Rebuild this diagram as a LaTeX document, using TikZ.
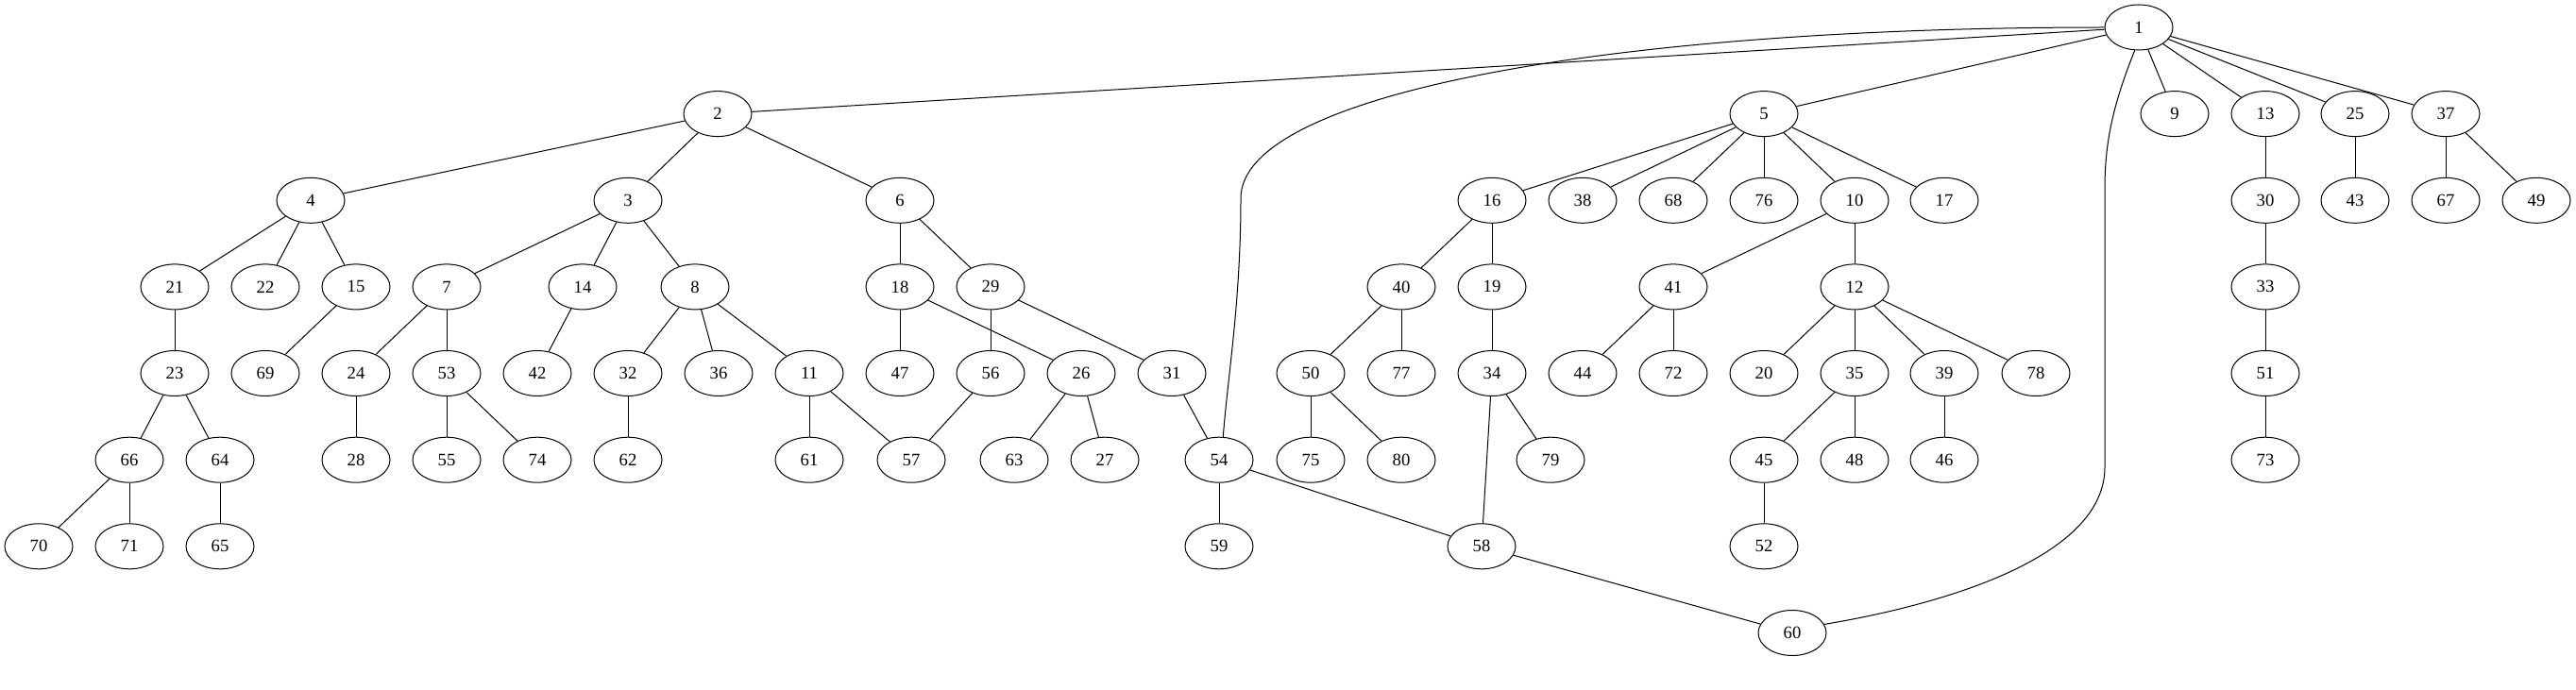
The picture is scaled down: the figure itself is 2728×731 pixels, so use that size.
\documentclass[tikz,border=0pt]{standalone}
\usepackage{fontspec}
\setmainfont{Liberation Serif}
\usetikzlibrary{shapes.geometric}

\tikzset{every picture/.style={line width=0.75pt}}
\tikzset{vtx/.style={draw, ellipse, minimum width=54pt, minimum height=36pt, inner sep=0pt, font=\fontsize{14}{16}\selectfont}}

\begin{document}
\begin{tikzpicture}[x=0.75pt,y=0.75pt,yscale=-1,xscale=1]
%set diagram left start at 0, and has height of 731
\useasboundingbox (0,0) rectangle (2728,731);

% Nodes, rank 0
\node[vtx] (n1) at (2265,29) {1};
% Nodes, rank 1
\node[vtx] (n2) at (760,120.6) {2};
\node[vtx] (n5) at (1868,120.6) {5};
\node[vtx] (n9) at (2303,120.6) {9};
\node[vtx] (n13) at (2399,120.6) {13};
\node[vtx] (n25) at (2494,120.6) {25};
\node[vtx] (n37) at (2590,120.6) {37};
% Nodes, rank 2
\node[vtx] (n4) at (329,212.3) {4};
\node[vtx] (n3) at (665,212.3) {3};
\node[vtx] (n6) at (953,212.3) {6};
\node[vtx] (n16) at (1580,212.3) {16};
\node[vtx] (n38) at (1676,212.3) {38};
\node[vtx] (n68) at (1772,212.3) {68};
\node[vtx] (n76) at (1868,212.3) {76};
\node[vtx] (n10) at (1964,212.3) {10};
\node[vtx] (n17) at (2059,212.3) {17};
\node[vtx] (n30) at (2399,212.3) {30};
\node[vtx] (n43) at (2494,212.3) {43};
\node[vtx] (n67) at (2590,212.3) {67};
\node[vtx] (n49) at (2686,212.3) {49};
% Nodes, rank 3
\node[vtx] (n21) at (185,303.9) {21};
\node[vtx] (n22) at (281,303.9) {22};
\node[vtx] (n15) at (377,303.9) {15};
\node[vtx] (n7) at (473,303.9) {7};
\node[vtx] (n14) at (617,303.9) {14};
\node[vtx] (n8) at (736,303.9) {8};
\node[vtx] (n18) at (953,303.9) {18};
\node[vtx] (n29) at (1049,303.9) {29};
\node[vtx] (n40) at (1484,303.9) {40};
\node[vtx] (n19) at (1580,303.9) {19};
\node[vtx] (n41) at (1772,303.9) {41};
\node[vtx] (n12) at (1964,303.9) {12};
\node[vtx] (n33) at (2399,303.9) {33};
% Nodes, rank 4
\node[vtx] (n23) at (185,395.5) {23};
\node[vtx] (n69) at (281,395.5) {69};
\node[vtx] (n24) at (377,395.5) {24};
\node[vtx] (n53) at (473,395.5) {53};
\node[vtx] (n42) at (569,395.5) {42};
\node[vtx] (n32) at (665,395.5) {32};
\node[vtx] (n36) at (761,395.5) {36};
\node[vtx] (n11) at (857,395.5) {11};
\node[vtx] (n47) at (953,395.5) {47};
\node[vtx] (n56) at (1049,395.5) {56};
\node[vtx] (n26) at (1145,395.5) {26};
\node[vtx] (n31) at (1241,395.5) {31};
\node[vtx] (n50) at (1388,395.5) {50};
\node[vtx] (n77) at (1484,395.5) {77};
\node[vtx] (n34) at (1580,395.5) {34};
\node[vtx] (n44) at (1676,395.5) {44};
\node[vtx] (n72) at (1772,395.5) {72};
\node[vtx] (n20) at (1868,395.5) {20};
\node[vtx] (n35) at (1964,395.5) {35};
\node[vtx] (n39) at (2059,395.5) {39};
\node[vtx] (n78) at (2156,395.5) {78};
\node[vtx] (n51) at (2399,395.5) {51};
% Nodes, rank 5
\node[vtx] (n66) at (137,487.2) {66};
\node[vtx] (n64) at (233,487.2) {64};
\node[vtx] (n28) at (377,487.2) {28};
\node[vtx] (n55) at (473,487.2) {55};
\node[vtx] (n74) at (569,487.2) {74};
\node[vtx] (n62) at (665,487.2) {62};
\node[vtx] (n61) at (857,487.2) {61};
\node[vtx] (n57) at (965,487.2) {57};
\node[vtx] (n63) at (1074,487.2) {63};
\node[vtx] (n27) at (1170,487.2) {27};
\node[vtx] (n54) at (1291,487.2) {54};
\node[vtx] (n75) at (1388,487.2) {75};
\node[vtx] (n80) at (1484,487.2) {80};
\node[vtx] (n79) at (1642,487.2) {79};
\node[vtx] (n45) at (1868,487.2) {45};
\node[vtx] (n48) at (1964,487.2) {48};
\node[vtx] (n46) at (2059,487.2) {46};
\node[vtx] (n73) at (2399,487.2) {73};
% Nodes, rank 6
\node[vtx] (n70) at (41,578.8) {70};
\node[vtx] (n71) at (137,578.8) {71};
\node[vtx] (n65) at (233,578.8) {65};
\node[vtx] (n59) at (1291,578.8) {59};
\node[vtx] (n58) at (1569,578.8) {58};
\node[vtx] (n52) at (1868,578.8) {52};
% Nodes, rank 7
\node[vtx] (n60) at (1898,670.5) {60};

%Curve Lines
\draw (n1.west) .. controls (1700,29) and (1314,100) .. (1314,210) .. controls (1314,320) and (1300,400) .. (n54.80);
\draw (n1.260) .. controls (2238,110) and (2229,150) .. (2229,200) -- (2229,495) .. controls (2229,590) and (2060,640) .. (n60.15);

%Straight Lines
\draw (n1) -- (n2);
\draw (n1) -- (n5);
\draw (n1) -- (n9);
\draw (n1) -- (n13);
\draw (n1) -- (n25);
\draw (n1) -- (n37);
\draw (n2) -- (n4);
\draw (n2) -- (n3);
\draw (n2) -- (n6);
\draw (n5) -- (n16);
\draw (n5) -- (n38);
\draw (n5) -- (n68);
\draw (n5) -- (n76);
\draw (n5) -- (n10);
\draw (n5) -- (n17);
\draw (n13) -- (n30);
\draw (n25) -- (n43);
\draw (n37) -- (n67);
\draw (n37) -- (n49);
\draw (n4) -- (n21);
\draw (n4) -- (n22);
\draw (n4) -- (n15);
\draw (n3) -- (n7);
\draw (n3) -- (n14);
\draw (n3) -- (n8);
\draw (n6) -- (n18);
\draw (n6) -- (n29);
\draw (n16) -- (n40);
\draw (n16) -- (n19);
\draw (n10) -- (n41);
\draw (n10) -- (n12);
\draw (n30) -- (n33);
\draw (n21) -- (n23);
\draw (n15) -- (n69);
\draw (n7) -- (n24);
\draw (n7) -- (n53);
\draw (n14) -- (n42);
\draw (n8) -- (n32);
\draw (n8) -- (n36);
\draw (n8) -- (n11);
\draw (n18) -- (n47);
\draw (n18) -- (n26);
\draw (n29) -- (n56);
\draw (n29) -- (n31);
\draw (n40) -- (n50);
\draw (n40) -- (n77);
\draw (n19) -- (n34);
\draw (n41) -- (n44);
\draw (n41) -- (n72);
\draw (n12) -- (n20);
\draw (n12) -- (n35);
\draw (n12) -- (n39);
\draw (n12) -- (n78);
\draw (n33) -- (n51);
\draw (n23) -- (n66);
\draw (n23) -- (n64);
\draw (n24) -- (n28);
\draw (n53) -- (n55);
\draw (n53) -- (n74);
\draw (n32) -- (n62);
\draw (n11) -- (n61);
\draw (n11) -- (n57);
\draw (n56) -- (n57);
\draw (n26) -- (n63);
\draw (n26) -- (n27);
\draw (n31) -- (n54);
\draw (n50) -- (n75);
\draw (n50) -- (n80);
\draw (n34) -- (n79);
\draw (n34) -- (n58);
\draw (n35) -- (n45);
\draw (n35) -- (n48);
\draw (n39) -- (n46);
\draw (n51) -- (n73);
\draw (n66) -- (n70);
\draw (n66) -- (n71);
\draw (n64) -- (n65);
\draw (n54) -- (n59);
\draw (n54) -- (n58);
\draw (n45) -- (n52);
\draw (n58) -- (n60);

\end{tikzpicture}
\end{document}
